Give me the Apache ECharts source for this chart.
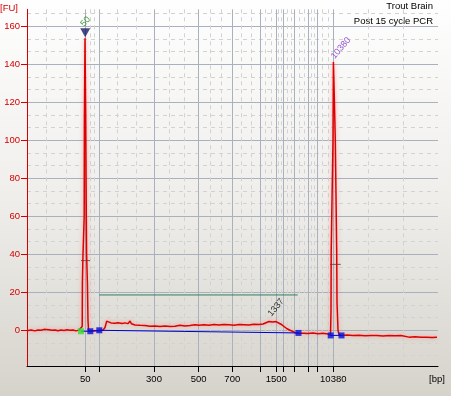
<!DOCTYPE html>
<html><head><meta charset="utf-8">
<script src="https://cdn.jsdelivr.net/npm/echarts@6/dist/echarts.min.js"></script>
<style>html,body{margin:0;padding:0;background:#fff;}#c{width:451px;height:396px;}</style>
</head><body><div id="c"></div>
<script>
// ---- data ----
const ladderBp  = [50, 100, 300, 500, 700, 1000, 1500, 2000, 3000, 5000, 7000, 10380];
const ladderPos = [58.3, 72.3, 127, 171.7, 205.3, 233.3, 249.3, 256.3, 267.7, 281.3, 290.3, 306.3];
const labeledBp = [50, 300, 500, 700, 1500, 10380];
const yTicks = [0, 20, 40, 60, 80, 100, 120, 140, 160];

const traceX = [0,4,8,11,14,17,19,22,25,28,31,34,37,40,43,46,49,52,54.0,55.2,55.4,56.0,57.2,57.4,58.0,58.7,59.3,59.6,60.4,61.0,61.6,64,68,72.3,76,78,79.7,81.5,84,88,91,95,98,101,103,104.5,108,113,118,123,128,133,138,143,148,153,158,163,168,170,172,177,182,187,192,197,202,207,212,217,222,227,232,236,239,242,244,246,249,251,254,257,260,263,266,268.5,271.5,276,281,286,291,296,301,303.5,304.0,304.2,306.0,306.4,307.2,308.3,309.7,310.0,311.0,312,314.5,320,326,332,338,344,350,356,362,368,374,376,382,388,394,400,405,410];
const traceY = [-0.2,0.1,-0.3,0.2,0.0,0.5,0.8,0.3,0.0,0.2,-0.2,0.1,-0.1,0.3,0.0,0.2,-0.3,0.1,-0.3,2,25,40,60,110,153.8,113,60,40,25,5,-0.3,-0.4,-0.2,-0.2,0.1,1.5,4.8,4.6,3.9,3.7,4.0,3.6,3.9,3.5,4.9,3.4,2.8,2.6,2.5,2.1,2.3,2.0,2.2,2.0,2.1,2.6,2.3,2.5,2.9,3.6,2.6,2.9,2.7,3.0,2.8,3.1,2.9,2.7,3.0,2.9,2.8,3.2,3.0,3.3,4.0,4.6,5.4,4.4,4.6,4.0,3.2,2.0,0.8,0.0,-0.7,-1.3,-1.5,-1.5,-1.7,-1.4,-1.8,-1.6,-1.9,-2.6,10,42,100,141.3,125,100,42,15,0,-2.3,-2.7,-2.5,-2.8,-2.6,-2.9,-2.7,-2.8,-3.0,-2.8,-2.9,-2.8,-3.5,-3.6,-3.4,-3.7,-3.6,-3.8,-3.7];

const baseAX = [54.0, 63.3, 72.3, 271.5];
const baseAY = [-0.5, -0.5, 0, -1.4];
const baseBX = [303.7, 314.5];
const baseBY = [-2.7, -2.7];
const greenMarkX = [54.0];
const greenMarkY = [-0.5];
const blueMarkX = [63.3, 72.3, 271.5, 303.7, 314.5];
const blueMarkY = [-0.5, 0, -1.4, -2.7, -2.7];
const regionX = [72.3, 270.7];
const regionY = [18.6, 18.6];
const halfLowX = [54.0, 63.0];
const halfLowY = [36.7, 36.7];
const halfUpX = [303.0, 313.7];
const halfUpY = [34.7, 34.7];
const markerTriX = [58.2];
const markerTriY = [156.6];
const peakNames = ['50', '10380', '1337'];
const peakX = [58.5, 314, 249];
const peakY = [162.5, 148.6, 12];
const peakColors = ['#178017', '#7a2ec8', '#000000'];

// ---- chart ----
const zip = (a, b) => a.map((v, i) => [v, b[i]]);
const XMIN = 0, XMAX = 411, YMIN = -18.8, YMAX = 169;
const labeledPos = labeledBp.map(b => ladderPos[ladderBp.indexOf(b)]);
const bounds = [XMIN].concat(ladderPos, [XMAX]);
const minorX = [];
for (let i = 0; i < bounds.length - 1; i++) {
  const d = (bounds[i + 1] - bounds[i]) / 3;
  minorX.push(+(bounds[i] + d).toFixed(2), +(bounds[i] + 2 * d).toFixed(2));
}
const minorY = [];
for (let k = -2; k <= 25; k++) { if (k % 3 !== 0) minorY.push(+(k * 20 / 3).toFixed(3)); }

const FONT = 'Liberation Sans, Arial, sans-serif';
const chart = echarts.init(document.getElementById('c'), null, {renderer: 'canvas'});
chart.setOption({
  animation: false,
  backgroundColor: {type: 'linear', x: 0, y: 0, x2: 0, y2: 1,
    colorStops: [{offset: 0, color: '#fefefe'}, {offset: 0.5, color: '#efeeeb'}, {offset: 1, color: '#d6d3cb'}]},
  grid: {left: 27, right: 13, top: 9.3, bottom: 30, containLabel: false, outerBoundsMode: 'none'},
  xAxis: [{
    type: 'value', min: XMIN, max: XMAX,
    axisLine: {show: true, onZero: false, lineStyle: {color: '#000', width: 1}},
    axisTick: {show: true, length: 6, customValues: ladderPos, lineStyle: {color: '#000'}},
    axisLabel: {show: true, customValues: labeledPos, margin: 8, color: '#000', fontSize: 9.5, fontFamily: FONT,
      formatter: v => String(ladderBp[ladderPos.indexOf(v)])},
    splitLine: {show: true, lineStyle: {color: '#a9b0be', width: 1}}
  }, {
    type: 'value', min: XMIN, max: XMAX, position: 'bottom',
    axisLine: {show: false}, axisLabel: {show: false},
    axisTick: {show: false, customValues: minorX},
    splitLine: {show: true, lineStyle: {color: '#d2d2d2', width: 1, type: [4, 4]}}
  }],
  yAxis: [{
    type: 'value', min: YMIN, max: YMAX,
    axisLine: {show: true, onZero: false, lineStyle: {color: '#d40000', width: 1}},
    axisTick: {show: true, length: 6, customValues: yTicks, lineStyle: {color: '#d40000'}},
    axisLabel: {show: true, customValues: yTicks, margin: 7, color: '#d40000', fontSize: 9.5, fontFamily: FONT},
    splitLine: {show: true, lineStyle: {color: '#a9b0be', width: 1}}
  }, {
    type: 'value', min: YMIN, max: YMAX, position: 'left',
    axisLine: {show: false}, axisLabel: {show: false},
    axisTick: {show: false, customValues: minorY},
    splitLine: {show: true, lineStyle: {color: '#d2d2d2', width: 1, type: [4, 4]}}
  }],
  series: [
    {type: 'line', data: zip(regionX, regionY), showSymbol: false, lineStyle: {color: '#2f7f5c', width: 1}, z: 2, silent: true},
    {type: 'line', data: zip(halfLowX, halfLowY), showSymbol: false, lineStyle: {color: '#4d6650', width: 1}, z: 2, silent: true},
    {type: 'line', data: zip(halfUpX, halfUpY), showSymbol: false, lineStyle: {color: '#4d6650', width: 1}, z: 2, silent: true},
    {type: 'line', data: zip(traceX, traceY), showSymbol: false,
      lineStyle: {color: '#dd0000', width: 1.5, shadowColor: 'rgba(255,90,90,0.55)', shadowBlur: 4}, z: 3, silent: true},
    {type: 'line', data: zip(baseAX, baseAY), showSymbol: false, lineStyle: {color: '#0000cc', width: 1}, z: 4, silent: true},
    {type: 'line', data: zip(baseBX, baseBY), showSymbol: false, lineStyle: {color: '#0000cc', width: 1}, z: 4, silent: true},
    {type: 'scatter', data: zip(blueMarkX, blueMarkY), symbol: 'rect', symbolSize: 6, itemStyle: {color: '#0010dd'}, z: 5, silent: true},
    {type: 'scatter', data: zip(greenMarkX, greenMarkY), symbol: 'rect', symbolSize: 6, itemStyle: {color: '#33e033'}, z: 5, silent: true},
    {type: 'scatter', data: zip(markerTriX, markerTriY), symbol: 'triangle', symbolRotate: 180, symbolSize: [10, 9],
      itemStyle: {color: '#1a1a66'}, z: 5, silent: true},
    {type: 'scatter', symbolSize: 0, z: 6, silent: true,
      data: peakNames.map((n, i) => ({value: [peakX[i], peakY[i]],
        label: {show: true, position: 'inside', formatter: n, rotate: 50, color: peakColors[i], fontSize: 9, fontFamily: FONT}}))}
  ],
  graphic: [
    {type: 'text', left: 0, top: 3, style: {text: '[FU]', fill: '#d40000', font: '9.5px ' + FONT}},
    {type: 'text', left: 429, top: 374, style: {text: '[bp]', fill: '#000', font: '9.5px ' + FONT}},
    {type: 'text', right: 18, top: 1, style: {text: 'Trout Brain', fill: '#000', font: '9.5px ' + FONT}},
    {type: 'text', right: 18, top: 16, style: {text: 'Post 15 cycle PCR', fill: '#000', font: '9.5px ' + FONT}}
  ]
});
</script></body></html>
